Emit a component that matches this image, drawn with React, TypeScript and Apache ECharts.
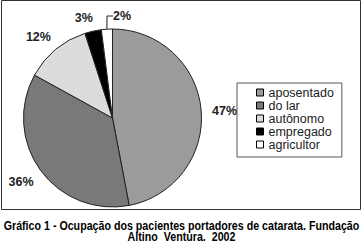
import React, { useEffect, useRef } from "react";
import * as echarts from "echarts";

const categories = ["aposentado", "do lar", "autônomo", "empregado", "agricultor"];
const values = [47, 36, 12, 3, 2];
const sliceColors = ["#9b9b9b", "#797979", "#dcdcdc", "#000000", "#ffffff"];
const captionLines = [
  "Gráfico 1 - Ocupação dos pacientes portadores de catarata. Fundação",
  "Altino  Ventura.  2002",
];
// label nudges relative to the library's outside placement
const labelShift = [
  { dx: 0, dy: 2 },
  { dx: 3, dy: 8 },
  { dx: 4, dy: -8 },
  { dx: 6, dy: -7 },
  { dx: 0, dy: 0 },
];

export default function App() {
  const ref = useRef<HTMLDivElement>(null);
  useEffect(() => {
    document.body.style.margin = "0";
    const chart = echarts.init(ref.current!, null, { renderer: "svg" });
    const data = categories.map((name, i) => ({
      name,
      value: values[i],
      itemStyle: { color: sliceColors[i] },
      labelLine: i === 4 ? { show: true, length: 12, length2: 6 } : { show: false },
    }));
    chart.setOption({
      animation: false,
      backgroundColor: "#ffffff",
      graphic: [
        {
          type: "rect",
          shape: { x: 1.5, y: 0.5, width: 359, height: 209 },
          style: { fill: "none", stroke: "#333", lineWidth: 1 },
          z: -1,
        },
        {
          type: "text",
          x: 181.5,
          y: 220,
          scaleX: 0.89,
          style: {
            text: captionLines.join("\n"),
            align: "center",
            verticalAlign: "top",
            fontFamily: "'Liberation Sans', Arial, sans-serif",
            fontWeight: "bold",
            fontSize: 12,
            lineHeight: 11,
            fill: "#000",
          },
        },
      ],
      legend: {
        orient: "vertical",
        left: 237,
        top: 83,
        padding: [3, 8, 6, 19],
        itemWidth: 7,
        itemHeight: 7,
        itemGap: 0,
        icon: "rect",
        borderColor: "#555",
        borderWidth: 1,
        borderRadius: 0,
        backgroundColor: "#fff",
        itemStyle: { borderColor: "#000", borderWidth: 1 },
        textStyle: {
          fontFamily: "'Liberation Sans', Arial, sans-serif",
          fontSize: 12.5,
          lineHeight: 13,
          color: "#222",
        },
        data: categories,
      },
      series: [
        {
          type: "pie",
          center: [112.5, 118],
          radius: 89,
          startAngle: 90,
          clockwise: true,
          avoidLabelOverlap: false,
          data,
          itemStyle: { borderColor: "#222", borderWidth: 1 },
          label: {
            show: true,
            position: "outside",
            formatter: "{c}%",
            fontFamily: "'Liberation Sans', Arial, sans-serif",
            fontWeight: "bold",
            fontSize: 12.5,
            color: "#222",
          },
          labelLine: {
            length: 6,
            length2: 0,
            lineStyle: { color: "#222", width: 1 },
          },
          labelLayout: (p: any) => {
            if (p.dataIndex === 4) {
              return { x: 113, y: 16, align: "left", verticalAlign: "middle", hideOverlap: false };
            }
            return { ...labelShift[p.dataIndex], hideOverlap: false };
          },
          emphasis: { disabled: true },
        },
      ],
    });
    return () => chart.dispose();
  }, []);
  return <div ref={ref} style={{ width: 363, height: 245 }} />;
}
